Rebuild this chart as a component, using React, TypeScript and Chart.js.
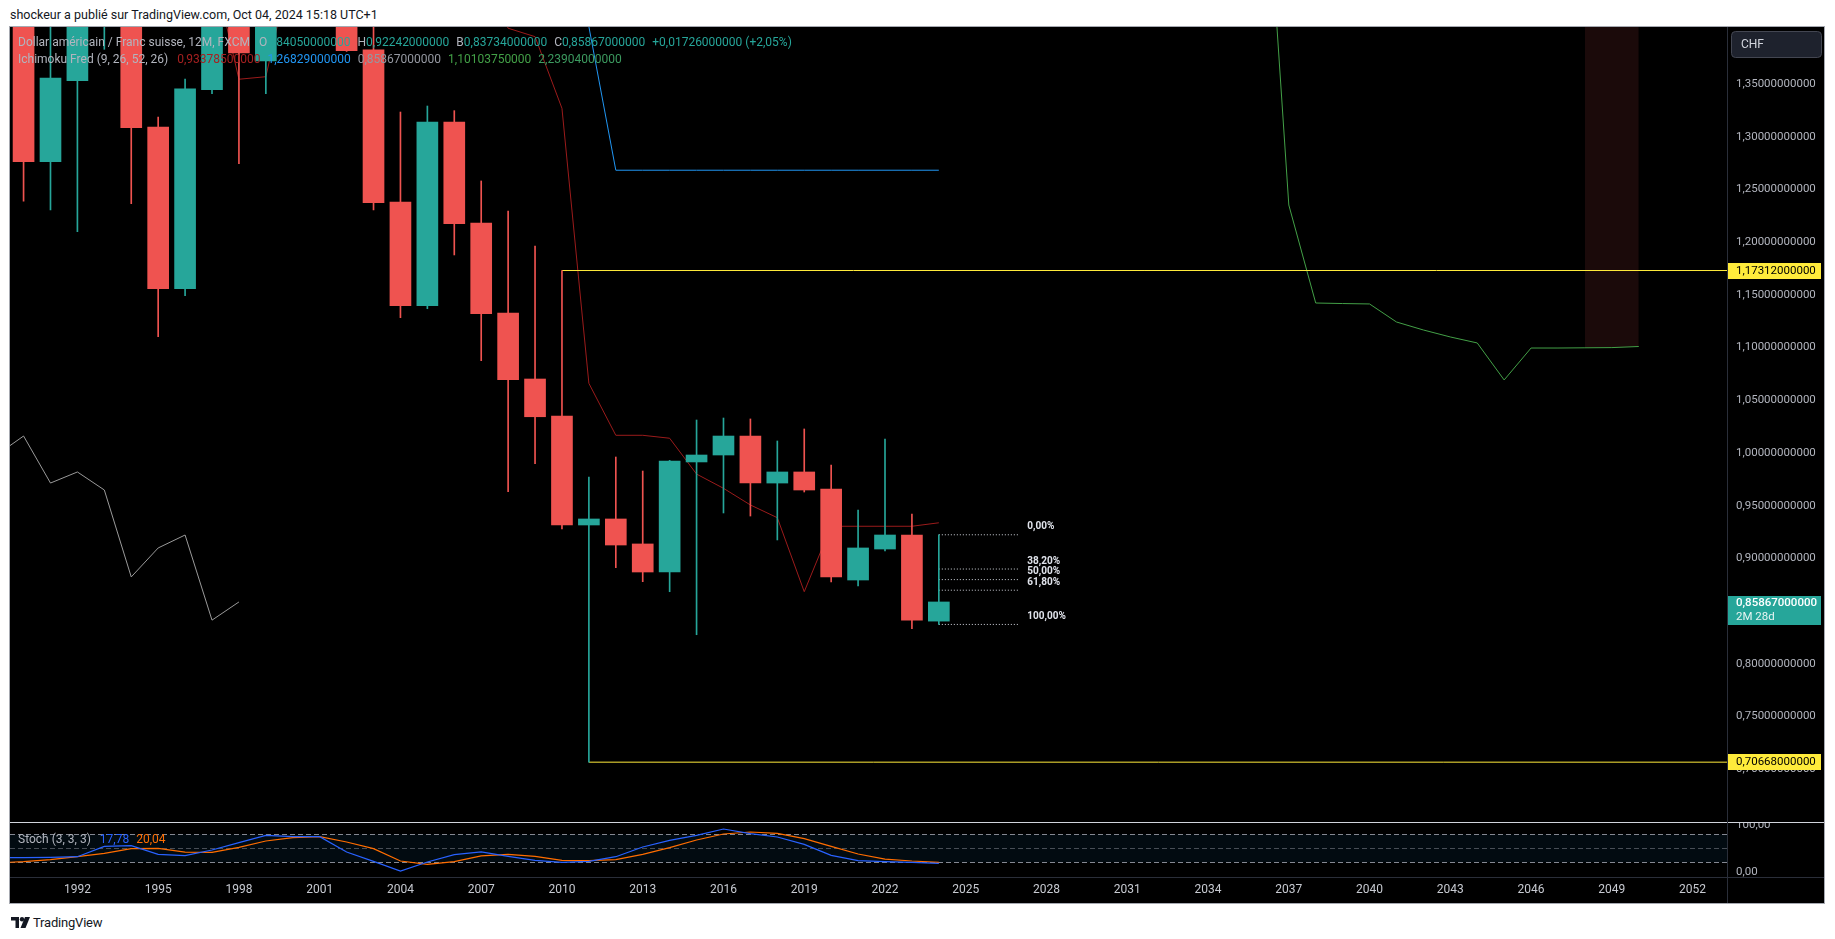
import React, { useEffect, useRef } from 'react';
import { Chart, registerables } from 'chart.js';

Chart.register(...registerables);

// ---------------- DATA ----------------
const YEARS = [
  1990, 1991, 1992, 1993, 1994, 1995, 1996, 1997, 1998, 1999,
  2000, 2001, 2002, 2003, 2004, 2005, 2006, 2007, 2008, 2009,
  2010, 2011, 2012, 2013, 2014, 2015, 2016, 2017, 2018, 2019,
  2020, 2021, 2022, 2023, 2024,
];
const OPEN = [
  1.545, 1.2764, 1.3532, 1.46, 1.48, 1.3093, 1.1559, 1.3447, 1.455, 1.372,
  1.6, 1.62, 1.66, 1.3824, 1.2381, 1.1398, 1.314, 1.2182, 1.1328, 1.0702,
  1.0351, 0.9317, 0.9374, 0.9137, 0.8871, 0.9915, 0.9981, 1.0161, 0.9715, 0.982,
  0.9658, 0.8795, 0.9089, 0.9222, 0.8405,
];
const HIGH = [
  1.575, 1.59, 1.55, 1.59, 1.52, 1.3188, 1.3548, 1.53, 1.52, 1.62,
  1.83, 1.83, 1.7, 1.5, 1.3235, 1.3292, 1.3248, 1.2581, 1.2296, 1.1964,
  1.17312, 0.9772, 0.9962, 0.9829, 0.993, 1.0313, 1.0332, 1.0323, 1.0114, 1.0228,
  0.9886, 0.9459, 1.0133, 0.9421, 0.92242,
];
const LOW = [
  1.239, 1.2306, 1.21, 1.383, 1.2366, 1.1103, 1.1492, 1.341, 1.2746, 1.341,
  1.55, 1.58, 1.381, 1.2306, 1.1284, 1.1369, 1.1879, 1.0876, 0.9633, 0.9899,
  0.9279, 0.70668, 0.8912, 0.8779, 0.8684, 0.8276, 0.9431, 0.9402, 0.9175, 0.963,
  0.8776, 0.8738, 0.907, 0.8333, 0.83734,
];
const CLOSE = [
  1.2764, 1.3558, 1.46, 1.48, 1.3087, 1.1559, 1.3454, 1.455, 1.3795, 1.6,
  1.62, 1.66, 1.3817, 1.2375, 1.1398, 1.314, 1.2176, 1.1322, 1.0696, 1.0344,
  0.9317, 0.9374, 0.9127, 0.8871, 0.9924, 0.9981, 1.0161, 0.9715, 0.982, 0.9649,
  0.8824, 0.9099, 0.9222, 0.84141, 0.85867,
];

// Ichimoku (9, 26, 52, 26)
const TENKAN_YEARS = [
  1997, 1998, 1999, 2000, 2001, 2002, 2003, 2004, 2005, 2006, 2007, 2008, 2009, 2010,
  2011, 2012, 2013, 2014, 2015, 2016, 2017, 2018, 2019, 2020, 2021, 2022, 2023, 2024,
];
const TENKAN = [
  1.465, 1.3546, 1.357, 1.47, 1.47, 1.47, 1.47, 1.479, 1.479, 1.479, 1.459, 1.403, 1.395, 1.327,
  1.0661, 1.0168, 1.0168, 1.014, 0.98, 0.9665, 0.9507, 0.9386, 0.8684, 0.9305, 0.9305, 0.9305, 0.9305, 0.933785,
];
const KIJUN_YEARS = [2010, 2011, 2012, 2013, 2014, 2015, 2016, 2017, 2018, 2019, 2020, 2021, 2022, 2023, 2024];
const KIJUN = [1.911, 1.4045, 1.26829, 1.26829, 1.26829, 1.26829, 1.26829, 1.26829, 1.26829, 1.26829, 1.26829, 1.26829, 1.26829, 1.26829, 1.26829];
const CHIKOU_FROM = 2014;
const DISPLACEMENT = 26;
const SENKOU_A_YEARS = [2036, 2037, 2038, 2039, 2040, 2041, 2042, 2043, 2044, 2045, 2046, 2047, 2048, 2049, 2050];
const SENKOU_A = [1.619, 1.2353, 1.1423, 1.1418, 1.1414, 1.1243, 1.1167, 1.1101, 1.1044, 1.0693, 1.0996, 1.0996, 1.0998, 1.1, 1.1010375];
const SENKOU_B_YEARS = [2048, 2049, 2050];
const SENKOU_B = [2.23904, 2.23904, 2.23904];

// Stochastic (3, 3, 3)
const STOCH_YEARS = [
  1989, 1990, 1991, 1992, 1993, 1994, 1995, 1996, 1997, 1998, 1999, 2000,
  2001, 2002, 2003, 2004, 2005, 2006, 2007, 2008, 2009, 2010, 2011, 2012,
  2013, 2014, 2015, 2016, 2017, 2018, 2019, 2020, 2021, 2022, 2023, 2024,
];
const STOCH_K = [
  30, 30, 30.7, 32.1, 54.3, 55.7, 37.1, 34.3, 46.4, 62.1, 77.9, 75,
  75, 42.1, 22.1, 1.4, 20.7, 36.4, 42.5, 32.9, 24.3, 20, 22.1, 32.1,
  52.9, 67.1, 77.9, 91.4, 81.4, 74.3, 58.6, 35, 23.6, 21.4, 20, 17.78,
];
const STOCH_D = [
  19, 21.4, 25.7, 32.1, 39.3, 49.3, 50, 42.1, 41.4, 52.1, 65.7, 72.9,
  75, 63.6, 49.3, 22.9, 15.7, 21.4, 34, 37.1, 32.9, 24.3, 23.6, 25.7,
  37.1, 51.4, 67.9, 80.7, 85, 82.1, 70.7, 54.3, 37.9, 27.1, 22.9, 20.04,
];
const STOCH_LEVELS = [80, 50, 20];

// Drawings
const RAYS = [
  { from: 2010, price: 1.17312 },
  { from: 2011, price: 0.70668 },
];
const FIB_LEVELS = [0, 0.382, 0.5, 0.618, 1];
const FIB_FROM = 2024;
const FIB_TO = 2026.95;

// Ticks
const PRICE_TICKS = [0.7, 0.75, 0.8, 0.85, 0.9, 0.95, 1.0, 1.05, 1.1, 1.15, 1.2, 1.25, 1.3, 1.35];
const STOCH_TICKS = [0, 100];
const YEAR_TICKS = [1992, 1995, 1998, 2001, 2004, 2007, 2010, 2013, 2016, 2019, 2022, 2025, 2028, 2031, 2034, 2037, 2040, 2043, 2046, 2049, 2052];

const CURRENCY = 'CHF';
const COUNTDOWN = '2M 28d';
const TITLE = 'Dollar américain / Franc suisse, 12M, FXCM';
const ICHI_TITLE = 'Ichimoku Fred (9, 26, 52, 26)';
const STOCH_TITLE = 'Stoch (3, 3, 3)';

// ---------------- LAYOUT / STYLE ----------------
const X_MIN = 1989.496;
const X_MAX = 2053.278;
const Y_MIN = 0.64896;
const Y_MAX = 1.40417;
const S_MIN = -11.4;
const S_MAX = 104.3;
const AXIS_W = 97;
const UP = '#26a69a';
const DOWN = '#ef5350';
const TEXT = '#b2b5be';
const FONT = 'Roboto, "Noto Sans", sans-serif';

const fmt = (v: number, d: number) => v.toFixed(d).replace('.', ',');
const pts = (xs: number[], ys: number[]) => xs.map((x, i) => ({ x, y: ys[i] }));

const mainOverlay = {
  id: 'mainOverlay',
  afterDraw(chart: any) {
    const { ctx, chartArea: a, scales } = chart;
    const x = scales.x;
    const y = scales.y;
    const n = CLOSE.length - 1;
    ctx.save();
    // Fibonacci labels
    const fh = HIGH[n];
    const fl = LOW[n];
    ctx.font = `bold 10px ${FONT}`;
    ctx.fillStyle = '#e0e3eb';
    ctx.textBaseline = 'middle';
    ctx.textAlign = 'left';
    FIB_LEVELS.forEach((l) => {
      const p = fh - l * (fh - fl);
      ctx.fillText(fmt(l * 100, 2) + '%', x.getPixelForValue(FIB_TO) + 9, y.getPixelForValue(p) - 8);
    });
    // Currency box
    const L = a.right + 1;
    ctx.beginPath();
    ctx.roundRect(a.right + 4.5, 4.5, 90, 26, 4);
    ctx.fillStyle = '#1e222d';
    ctx.fill();
    ctx.strokeStyle = '#434651';
    ctx.lineWidth = 1;
    ctx.stroke();
    ctx.fillStyle = '#d1d4dc';
    ctx.font = `12px ${FONT}`;
    ctx.fillText(CURRENCY, a.right + 14, 18);
    // Ray labels
    RAYS.forEach((r) => {
      const py = Math.round(y.getPixelForValue(r.price));
      ctx.fillStyle = '#ffeb3b';
      ctx.fillRect(L, py - 8, 93, 16);
      ctx.fillStyle = '#000';
      ctx.font = `11.5px ${FONT}`;
      ctx.fillText(fmt(r.price, 11), a.right + 9, py + 0.5);
    });
    // Last price label
    const c = CLOSE[n];
    const py = Math.round(y.getPixelForValue(c));
    ctx.fillStyle = UP;
    ctx.fillRect(L, py - 6, 93, 29);
    ctx.fillStyle = '#ffffff';
    ctx.font = `500 11.5px ${FONT}`;
    ctx.fillText(fmt(c, 11), a.right + 9, py + 1.5);
    ctx.font = `11.5px ${FONT}`;
    ctx.fillStyle = '#e6f4f2';
    ctx.fillText(COUNTDOWN, a.right + 9, py + 15);
    ctx.restore();
  },
};

const stochBands = {
  id: 'stochBands',
  beforeDatasetsDraw(chart: any) {
    const { ctx, chartArea: a, scales } = chart;
    const y = scales.y;
    const top = y.getPixelForValue(STOCH_LEVELS[0]);
    const bot = y.getPixelForValue(STOCH_LEVELS[2]);
    ctx.save();
    ctx.fillStyle = 'rgba(33,150,243,0.07)';
    ctx.fillRect(a.left, top, a.right - a.left, bot - top);
    ctx.setLineDash([5, 3]);
    ctx.lineWidth = 1;
    STOCH_LEVELS.forEach((lv, i) => {
      ctx.strokeStyle = i === 1 ? 'rgba(120,123,134,0.6)' : 'rgba(140,143,154,0.95)';
      const p = Math.round(y.getPixelForValue(lv)) + 0.5;
      ctx.beginPath();
      ctx.moveTo(a.left, p);
      ctx.lineTo(a.right, p);
      ctx.stroke();
    });
    ctx.restore();
  },
};

export default function App() {
  const mainRef = useRef<HTMLCanvasElement>(null);
  const stochRef = useRef<HTMLCanvasElement>(null);

  useEffect(() => {
    Chart.defaults.font.family = FONT;
    const colors = YEARS.map((_, i) => (CLOSE[i] >= OPEN[i] ? UP : DOWN));
    const n = CLOSE.length - 1;
    const fh = HIGH[n];
    const fl = LOW[n];

    const line = (data: any[], color: string, order: number, extra: any = {}) => ({
      type: 'line' as const,
      data,
      borderColor: color,
      borderWidth: 1,
      pointRadius: 0,
      tension: 0,
      fill: false,
      order,
      clip: 0,
      ...extra,
    });

    const chikou = YEARS.map((yr, i) => ({ yr, c: CLOSE[i] }))
      .filter((d) => d.yr >= CHIKOU_FROM)
      .map((d) => ({ x: d.yr - DISPLACEMENT, y: d.c }));

    const datasets: any[] = [
      {
        type: 'bar',
        data: YEARS.map((yr, i) => ({ x: yr, y: [OPEN[i], CLOSE[i]] })),
        backgroundColor: colors,
        barThickness: 21,
        grouped: false,
        borderWidth: 0,
        minBarLength: 1,
        order: 0,
        clip: 0,
      },
      {
        type: 'bar',
        data: YEARS.map((yr, i) => ({ x: yr, y: [LOW[i], HIGH[i]] })),
        backgroundColor: colors,
        barThickness: 1,
        grouped: false,
        borderWidth: 0,
        order: 1,
        clip: 0,
      },
      line(pts(TENKAN_YEARS, TENKAN), '#9b1b1b', 3),
      line(pts(KIJUN_YEARS, KIJUN), '#2196f3', 3),
      line(chikou, '#9a9a9a', 3),
      line(pts(SENKOU_A_YEARS, SENKOU_A), '#43a047', 3),
      line(
        pts(SENKOU_B_YEARS, SENKOU_B.map((_, i) => SENKOU_A[SENKOU_A_YEARS.indexOf(SENKOU_B_YEARS[i])])),
        'rgba(0,0,0,0)',
        6,
        { borderWidth: 0 }
      ),
      line(pts(SENKOU_B_YEARS, SENKOU_B), '#3c9a5f', 7, { fill: 6, backgroundColor: '#1b0a0a' }),
      ...RAYS.map((r) =>
        line(
          [
            { x: r.from, y: r.price },
            { x: X_MAX + 5, y: r.price },
          ],
          '#ffeb3b',
          2
        )
      ),
      ...FIB_LEVELS.map((l) =>
        line(
          [
            { x: FIB_FROM, y: fh - l * (fh - fl) },
            { x: FIB_TO, y: fh - l * (fh - fl) },
          ],
          '#d1d4dc',
          2,
          { borderDash: [1, 2] }
        )
      ),
    ];

    const main = new Chart(mainRef.current as HTMLCanvasElement, {
      type: 'bar',
      data: { datasets },
      options: {
        responsive: true,
        maintainAspectRatio: false,
        animation: false,
        events: [],
        layout: { padding: 0 },
        plugins: { legend: { display: false }, tooltip: { enabled: false } },
        scales: {
          x: {
            type: 'linear',
            display: false,
            min: X_MIN,
            max: X_MAX,
            offset: false,
            grid: { display: false },
          },
          y: {
            type: 'linear',
            position: 'right',
            min: Y_MIN,
            max: Y_MAX,
            grid: { display: false, drawTicks: false },
            border: { display: false },
            afterBuildTicks: (s: any) => {
              s.ticks = PRICE_TICKS.map((v) => ({ value: v }));
            },
            afterFit: (s: any) => {
              s.width = AXIS_W;
              s.paddingTop = 0;
              s.paddingBottom = 0;
            },
            ticks: {
              color: TEXT,
              font: { size: 11.5 },
              padding: 9,
              callback: (v: any) => fmt(Number(v), 11),
            },
          },
        },
      } as any,
      plugins: [mainOverlay],
    } as any);

    const stoch = new Chart(stochRef.current as HTMLCanvasElement, {
      type: 'line',
      data: {
        datasets: [
          {
            data: pts(STOCH_YEARS, STOCH_K),
            borderColor: '#2962ff',
            borderWidth: 1.2,
            pointRadius: 0,
            tension: 0,
            order: 0,
            clip: 0,
          },
          {
            data: pts(STOCH_YEARS, STOCH_D),
            borderColor: '#ff6d00',
            borderWidth: 1.2,
            pointRadius: 0,
            tension: 0,
            order: 1,
            clip: 0,
          },
        ],
      },
      options: {
        responsive: true,
        maintainAspectRatio: false,
        animation: false,
        events: [],
        layout: { padding: 0 },
        plugins: { legend: { display: false }, tooltip: { enabled: false } },
        scales: {
          x: {
            type: 'linear',
            min: X_MIN,
            max: X_MAX,
            offset: false,
            grid: { display: false, drawTicks: false },
            border: { display: false },
            afterBuildTicks: (s: any) => {
              s.ticks = YEAR_TICKS.map((v) => ({ value: v }));
            },
            afterFit: (s: any) => {
              s.height = 26;
              s.paddingLeft = 0;
              s.paddingRight = 0;
            },
            ticks: {
              color: '#c7cad1',
              font: { size: 12 },
              padding: 6,
              autoSkip: false,
              maxRotation: 0,
              callback: (v: any) => String(v),
            },
          },
          y: {
            type: 'linear',
            position: 'right',
            min: S_MIN,
            max: S_MAX,
            grid: { display: false, drawTicks: false },
            border: { display: false },
            afterBuildTicks: (s: any) => {
              s.ticks = STOCH_TICKS.map((v) => ({ value: v }));
            },
            afterFit: (s: any) => {
              s.width = AXIS_W;
              s.paddingTop = 0;
              s.paddingBottom = 0;
            },
            ticks: {
              color: TEXT,
              font: { size: 11.5 },
              padding: 9,
              callback: (v: any) => fmt(Number(v), 2),
            },
          },
        },
      } as any,
      plugins: [stochBands],
    } as any);

    return () => {
      main.destroy();
      stoch.destroy();
    };
  }, []);

  const n = CLOSE.length - 1;
  const chg = CLOSE[n] - CLOSE[n - 1];
  const pct = (chg / CLOSE[n - 1]) * 100;
  const gap = { marginLeft: 7 };
  const hdr: React.CSSProperties = {
    position: 'absolute',
    left: 18,
    fontSize: 12,
    lineHeight: '16px',
    whiteSpace: 'nowrap',
    color: TEXT,
    fontFamily: FONT,
  };

  return (
    <div
      style={{
        position: 'fixed',
        left: 0,
        top: 0,
        width: 1835,
        height: 939,
        background: '#ffffff',
        fontFamily: FONT,
        overflow: 'hidden',
      }}
    >
      <div style={{ position: 'absolute', left: 10, top: 7, fontSize: 12.5, lineHeight: '16px', color: '#131722' }}>
        shockeur a publié sur TradingView.com, Oct 04, 2024 15:18 UTC+1
      </div>
      <div
        style={{
          position: 'absolute',
          left: 9,
          top: 26,
          width: 1816,
          height: 878,
          boxSizing: 'border-box',
          border: '1px solid #a6a9b1',
          background: '#000',
        }}
      />
      <div style={{ position: 'absolute', left: 10, top: 27, width: 1814, height: 796 }}>
        <canvas ref={mainRef} />
      </div>
      <div style={{ position: 'absolute', left: 10, top: 823, width: 1814, height: 80 }}>
        <canvas ref={stochRef} />
      </div>
      <div style={{ position: 'absolute', left: 10, top: 822, width: 1814, height: 1, background: '#d1d4dc' }} />
      <div style={{ position: 'absolute', left: 10, top: 877, width: 1814, height: 1, background: '#2a2e39' }} />
      <div style={{ position: 'absolute', left: 1727, top: 27, width: 1, height: 876, background: '#2a2e39' }} />

      <div style={{ ...hdr, top: 34 }}>
        <span>{TITLE}</span>
        <span style={{ marginLeft: 9 }}>O</span>
        <span style={{ color: UP }}>{fmt(OPEN[n], 11)}</span>
        <span style={gap}>H</span>
        <span style={{ color: UP }}>{fmt(HIGH[n], 11)}</span>
        <span style={gap}>B</span>
        <span style={{ color: UP }}>{fmt(LOW[n], 11)}</span>
        <span style={gap}>C</span>
        <span style={{ color: UP }}>{fmt(CLOSE[n], 11)}</span>
        <span style={{ ...gap, color: UP }}>
          {(chg >= 0 ? '+' : '') + fmt(chg, 11)} ({(pct >= 0 ? '+' : '') + fmt(pct, 2)}%)
        </span>
      </div>
      <div style={{ ...hdr, top: 51 }}>
        <span>{ICHI_TITLE}</span>
        <span style={{ marginLeft: 9, color: '#a52020' }}>{fmt(TENKAN[TENKAN.length - 1], 11)}</span>
        <span style={{ ...gap, color: '#2196f3' }}>{fmt(KIJUN[KIJUN.length - 1], 11)}</span>
        <span style={{ ...gap, color: '#9598a1' }}>{fmt(CLOSE[n], 11)}</span>
        <span style={{ ...gap, color: '#43a047' }}>{fmt(SENKOU_A[SENKOU_A.length - 1], 11)}</span>
        <span style={{ ...gap, color: '#3c9a5f' }}>{fmt(SENKOU_B[SENKOU_B.length - 1], 11)}</span>
      </div>
      <div style={{ ...hdr, top: 831 }}>
        <span>{STOCH_TITLE}</span>
        <span style={{ marginLeft: 9, color: '#2962ff' }}>{fmt(STOCH_K[STOCH_K.length - 1], 2)}</span>
        <span style={{ ...gap, color: '#ff6d00' }}>{fmt(STOCH_D[STOCH_D.length - 1], 2)}</span>
      </div>

      <div style={{ position: 'absolute', left: 11, top: 914, height: 16, display: 'flex', alignItems: 'center' }}>
        <svg width="19" height="11" viewBox="0 0 19 11">
          <path d="M0 0h8v11H4.5V3.5H0z" fill="#131722" />
          <circle cx="11" cy="2.2" r="2.2" fill="#131722" />
          <path d="M14 0h5l-4.5 11H9.5z" fill="#131722" />
        </svg>
        <span style={{ marginLeft: 3, fontSize: 13, color: '#131722', letterSpacing: -0.2 }}>TradingView</span>
      </div>
    </div>
  );
}
